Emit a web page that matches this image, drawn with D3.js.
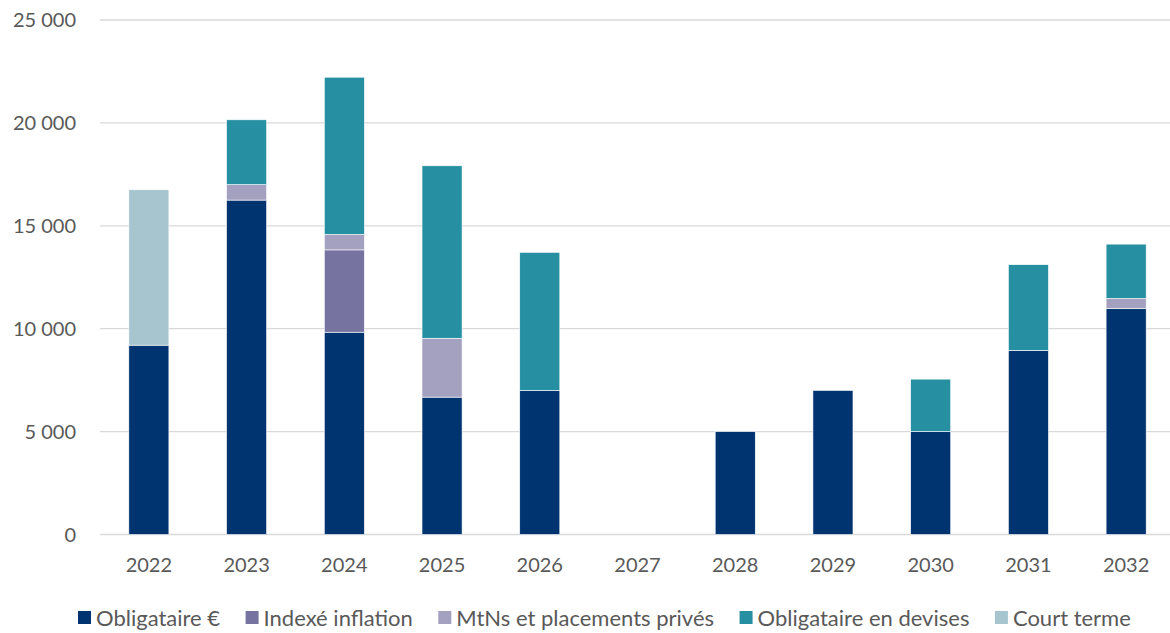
<!DOCTYPE html>
<html lang="fr">
<head>
<meta charset="UTF-8">
<title>Échéancier</title>
<style>
  body { margin: 0; background: #fff; }
  text { font-family: Lato, "Open Sans", sans-serif; fill: #595959; }
</style>
</head>
<body>
<div id="chart"></div>
<script src="https://d3js.org/d3.v7.min.js"></script>
<script>
var years = ["2022","2023","2024","2025","2026","2027","2028","2029","2030","2031","2032"];
var series = ["Obligataire €", "Indexé inflation", "MtNs et placements privés", "Obligataire en devises", "Court terme"];
var colors = ["#003470", "#7673A0", "#A3A0C0", "#2690A2", "#A6C5CF"];

var obligataire = [9200, 16250, 9830, 6675, 7000, 0, 5000, 7000, 5000, 8950, 10980];
var indexe      = [0, 0, 4000, 0, 0, 0, 0, 0, 0, 0, 0];
var mtns        = [0, 750, 750, 2860, 0, 0, 0, 0, 0, 0, 490];
var devises     = [0, 3150, 7640, 8380, 6710, 0, 0, 0, 2550, 4160, 2640];
var courtTerme  = [7550, 0, 0, 0, 0, 0, 0, 0, 0, 0, 0];
var yTicks = [0, 5000, 10000, 15000, 20000, 25000];

var W = 1170, H = 633;
var m = {left: 100, right: 1170, top: 20, bottom: 534.5};

var svg = d3.select('#chart').append('svg')
    .attr('width', W).attr('height', H);

var rows = years.map(function(y, i) {
    return {year: y, s0: obligataire[i], s1: indexe[i], s2: mtns[i], s3: devises[i], s4: courtTerme[i]};
});
var keys = ["s0","s1","s2","s3","s4"];
var stacked = d3.stack().keys(keys)(rows);

// the plot runs a little past the right edge of the picture
var x = d3.scaleBand().domain(years).range([m.left, 1175])
    .paddingInner(0.59).paddingOuter(0.295);
var y = d3.scaleLinear().domain([0, 25000]).range([m.bottom, m.top]);

var fmt = function(d) { return d3.format(',')(d).replace(/,/g, ' '); };

// grid
svg.append('g').selectAll('line').data(yTicks).enter().append('line')
    .attr('x1', m.left).attr('x2', m.right)
    .attr('y1', function(d) { return y(d); }).attr('y2', function(d) { return y(d); })
    .attr('stroke', '#d9d9d9').attr('stroke-width', 1.3);

// y labels
svg.append('g').selectAll('text').data(yTicks).enter().append('text')
    .attr('x', 76).attr('y', function(d) { return y(d); })
    .attr('dy', '0.35em').attr('text-anchor', 'end')
    .style('font-size', '20px')
    .text(fmt);

// bars
svg.append('g').selectAll('g').data(stacked).enter().append('g')
    .attr('fill', function(d, i) { return colors[i]; })
    .selectAll('rect').data(function(d) { return d.filter(function(p) { return p[1] - p[0] > 0; }); })
    .enter().append('rect')
    .attr('x', function(d) { return x(d.data.year); })
    .attr('width', x.bandwidth())
    .attr('y', function(d) { return y(d[1]); })
    .attr('height', function(d) { return y(d[0]) - y(d[1]); })
    .attr('stroke', '#ffffff').attr('stroke-width', 0.6);

// x labels
svg.append('g').selectAll('text').data(years).enter().append('text')
    .attr('x', function(d) { return x(d) + x.bandwidth() / 2; })
    .attr('y', 565).attr('dy', '0.35em')
    .attr('text-anchor', 'middle')
    .style('font-size', '20px')
    .text(function(d) { return d; });

// legend
var lg = svg.append('g');
var lx = 78;
series.forEach(function(name, i) {
    lg.append('rect').attr('x', lx).attr('y', 611).attr('width', 13).attr('height', 13)
        .attr('fill', colors[i]);
    var t = lg.append('text').attr('x', lx + 18).attr('y', 618).attr('dy', '0.35em')
        .style('font-size', '22px').text(name);
    lx += 18 + t.node().getComputedTextLength() + 25.5;
});
</script>
</body>
</html>
